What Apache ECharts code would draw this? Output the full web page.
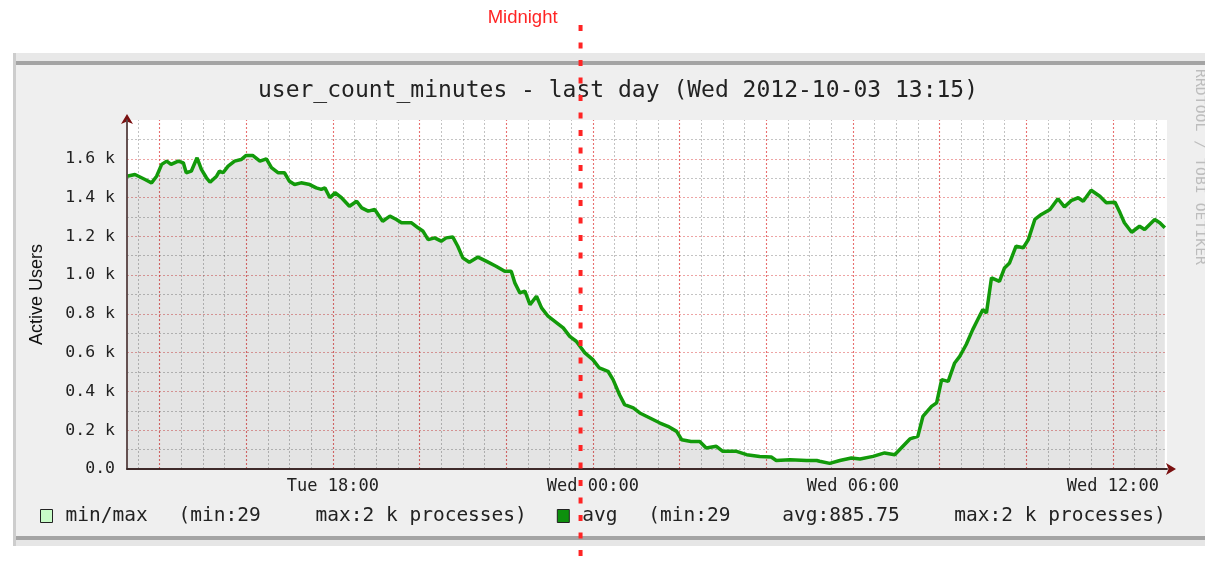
<!DOCTYPE html>
<html>
<head>
<meta charset="utf-8">
<title>user_count_minutes - last day</title>
<script src="https://cdn.jsdelivr.net/npm/echarts@6/dist/echarts.min.js"></script>
<style>
    html, body { margin: 0; padding: 0; background: #fff; }
    #main { width: 1205px; height: 566px; }
</style>
</head>
<body>
<div id="main"></div>
<script>
// minutes after Tue 13:15 (start of the "last day" window)
var offsetMin = [0, 11, 25, 34, 41, 48, 55, 61, 71, 78,
    82, 89, 97, 103, 110, 115, 124, 128, 133, 140,
    149, 158, 165, 174, 184, 193, 200, 209, 218, 225,
    232, 241, 253, 262, 269, 274, 281, 288, 297, 308,
    318, 325, 334, 343, 354, 364, 373, 380, 394, 403,
    410, 417, 426, 435, 442, 451, 458, 465, 474, 486,
    498, 511, 523, 532, 537, 544, 551, 558, 567, 574,
    583, 595, 604, 613, 622, 634, 645, 654, 666, 673,
    682, 689, 701, 710, 724, 738, 749, 761, 768, 781,
    793, 802, 816, 825, 844, 858, 876, 892, 899, 918,
    941, 955, 959, 973, 987, 1003, 1015, 1033, 1049, 1063,
    1072, 1084, 1095, 1102, 1114, 1121, 1128, 1137, 1146, 1153,
    1162, 1171, 1178, 1185, 1190, 1197, 1208, 1215, 1222, 1231,
    1241, 1248, 1257, 1266, 1278, 1289, 1298, 1308, 1317, 1324,
    1335, 1347, 1356, 1368, 1375, 1381, 1391, 1402, 1409, 1423,
    1430, 1437];

// active users (avg)
var activeUsers = [1510, 1519, 1493, 1476, 1510, 1571, 1588, 1571, 1588, 1579,
    1528, 1536, 1605, 1545, 1502, 1479, 1510, 1536, 1528, 1562,
    1588, 1596, 1617, 1617, 1588, 1600, 1554, 1528, 1528, 1484,
    1467, 1476, 1467, 1450, 1442, 1450, 1399, 1425, 1399, 1355,
    1381, 1347, 1330, 1338, 1278, 1304, 1287, 1270, 1270, 1244,
    1226, 1183, 1192, 1175, 1192, 1197, 1149, 1089, 1066, 1093,
    1071, 1046, 1020, 1020, 960, 908, 917, 848, 891, 831,
    788, 754, 728, 684, 659, 599, 564, 521, 504, 461,
    383, 332, 315, 289, 263, 237, 220, 194, 151, 142,
    142, 108, 117, 91, 91, 74, 65, 62, 44, 48,
    44, 44, 40, 29, 44, 57, 52, 65, 83, 74,
    108, 155, 168, 271, 323, 341, 461, 452, 547, 581,
    642, 719, 771, 822, 805, 986, 968, 1037, 1063, 1149,
    1141, 1183, 1287, 1313, 1338, 1394, 1352, 1386, 1399, 1381,
    1438, 1407, 1373, 1376, 1321, 1270, 1221, 1252, 1235, 1287,
    1270, 1244];

var startClock = 13 * 60 + 15;     // Tue 13:15
var spanMin = 1440;
var dayNames = ['Tue', 'Wed'];
var legendMinMax = ['min/max', '(min:29', 'max:2 k processes)'];
var legendAvg = ['avg', '(min:29', 'avg:885.75', 'max:2 k processes)'];
var midnightAt = 628;              // where the hand drawn "Midnight" marker sits

var pairs = offsetMin.map(function (m, i) { return [m, activeUsers[i]]; });

var mono = 'DejaVu Sans Mono';
var RED = '#eea4a4', GRAY = '#c4c4c4';

// vertical grid: gray every half hour, red every even hour (no overlap between the two)
var firstHalfHour = (30 - startClock % 30) % 30;
var vLines = [];
for (var m = firstHalfHour; m < spanMin; m += 30) {
    var major = (startClock + m) % 120 === 0;
    vLines.push({
        xAxis: m,
        lineStyle: major
            ? { color: 'rgba(222,50,50,0.7)', type: [2, 2], width: 1.1 }
            : { color: 'rgba(120,120,120,0.45)', type: [2, 2], width: 1 }
    });
}

function xLabel(m) {
    var c = startClock + m;
    if (c % 360 !== 0) return '';
    var h = Math.floor((c % 1440) / 60);
    return dayNames[Math.floor(c / 1440)] + ' ' + (h < 10 ? '0' + h : h) + ':00';
}
function yLabel(v) {
    if (v >= 1800) return '';
    if (v === 0) return '0.0';
    return (v / 1000).toFixed(1) + ' k';
}

// legend text is tab aligned in rrdtool, fake it with fixed width rich boxes
var tokStyle = function (w) {
    var s = { fontFamily: mono, fontSize: 19.5, color: '#222' };
    if (w) s.width = w;
    return s;
};
function legendText(name) {
    if (name === 'min/max') {
        return '{s| }{a1|' + legendMinMax[0] + '}{b1|' + legendMinMax[1] + '}{c1|' + legendMinMax[2] + '}';
    }
    return '{s| }{a2|' + legendAvg[0] + '}{b2|' + legendAvg[1] + '}{c2|' + legendAvg[2] + '}{d2|' + legendAvg[3] + '}';
}

function yLineAxis(step, color, z) {
    return {
        type: 'value', position: 'left', min: 0, max: 1800, interval: step, z: z,
        axisLine: { show: false }, axisTick: { show: false }, axisLabel: { show: false },
        splitLine: { show: true, showMinLine: false, showMaxLine: false, lineStyle: { color: color, type: [2, 2], width: 1 } }
    };
}

var chart = echarts.init(document.getElementById('main'));

var option = {
    animation: false,
    title: {
        text: 'user_count_minutes - last day (Wed 2012-10-03 13:15)',
        left: 613,
        top: 75,
        textAlign: 'center',
        textStyle: { fontFamily: mono, fontSize: 23, fontWeight: 'normal', color: '#222' }
    },
    legend: {
        left: 40,
        top: 506,
        padding: 0,
        icon: 'rect',
        itemWidth: 12,
        itemHeight: 13,
        itemGap: 30,
        selectedMode: false,
        data: [
            { name: 'min/max', itemStyle: { color: '#c8fcc8', borderColor: '#222', borderWidth: 1 } },
            { name: 'avg', itemStyle: { color: '#0d900d', borderColor: '#222', borderWidth: 1 } }
        ],
        formatter: legendText,
        textStyle: {
            fontFamily: mono, fontSize: 19.5, color: '#222',
            rich: {
                s: tokStyle(8),
                a1: tokStyle(113), b1: tokStyle(137), c1: tokStyle(),
                a2: tokStyle(66), b2: tokStyle(134), c2: tokStyle(172), d2: tokStyle()
            }
        }
    },
    grid: { left: 127, right: 38, top: 120, bottom: 97, show: true, backgroundColor: '#fff', borderWidth: 0 },
    xAxis: [
        {
            type: 'value', position: 'bottom', min: 0, max: spanMin, interval: 15, z: 12,
            axisLine: { show: true, onZero: false, lineStyle: { color: '#222', width: 1.5 } },
            axisTick: { show: false },
            axisLabel: { formatter: xLabel, fontFamily: mono, fontSize: 17, color: '#222', margin: 9 },
            splitLine: { show: false }
        },
        {
            // only there for the dark red arrow head
            type: 'value', position: 'bottom', min: 0, max: spanMin, z: 11,
            axisLine: {
                show: true, onZero: false, symbol: ['none', 'arrow'], symbolSize: [9, 10], symbolOffset: [0, 9],
                lineStyle: { color: '#7a1010', width: 1.5 }
            },
            axisTick: { show: false }, axisLabel: { show: false }, splitLine: { show: false }
        }
    ],
    yAxis: [
        {
            type: 'value', position: 'left', min: 0, max: 1800, interval: 200, z: 12,
            name: 'Active Users',
            nameLocation: 'middle',
            nameGap: 81,
            nameTextStyle: { fontFamily: 'Liberation Sans', fontSize: 18, color: '#111' },
            axisLine: { show: true, lineStyle: { color: '#555', width: 1.5 } },
            axisTick: { show: false },
            axisLabel: { formatter: yLabel, fontFamily: mono, fontSize: 16.5, color: '#222', margin: 12 },
            splitLine: { show: false }
        },
        {
            type: 'value', position: 'left', min: 0, max: 1800, z: 11,
            axisLine: {
                show: true, onZero: false, symbol: ['none', 'arrow'], symbolSize: [9, 10], symbolOffset: [0, 6],
                lineStyle: { color: '#7a1010', width: 1.5 }
            },
            axisTick: { show: false }, axisLabel: { show: false }, splitLine: { show: false }
        },
        yLineAxis(100, GRAY, 3),   // gray line every 0.1 k
        yLineAxis(200, RED, 5)     // red line every 0.2 k
    ],
    series: [
        {
            name: 'min/max',
            type: 'line',
            data: pairs,
            showSymbol: false,
            itemStyle: { color: '#c8fcc8' },
            lineStyle: { width: 0 },
            areaStyle: { color: 'rgba(0,0,0,0.15)' },
            z: 8,
            markLine: {
                silent: true,
                symbol: ['none', 'none'],
                label: { show: false },
                data: vLines
            }
        },
        {
            name: 'avg',
            type: 'line',
            data: pairs,
            showSymbol: false,
            itemStyle: { color: '#129a0a' },
            lineStyle: { color: '#129a0a', width: 3.5 },
            z: 9
        }
    ]
};
chart.setOption(option);

// panel frame, watermark and the midnight marker
var mx = chart.convertToPixel({ xAxisIndex: 0 }, midnightAt);
chart.setOption({
    graphic: {
        elements: [
            { type: 'rect', z: -10, shape: { x: 13, y: 53, width: 1200, height: 8 }, style: { fill: '#e8e8e8' } },
            { type: 'rect', z: -10, shape: { x: 13, y: 61, width: 1200, height: 4 }, style: { fill: '#a4a4a4' } },
            { type: 'rect', z: -10, shape: { x: 13, y: 65, width: 1200, height: 471 }, style: { fill: '#efefef' } },
            { type: 'rect', z: -10, shape: { x: 13, y: 536, width: 1200, height: 4 }, style: { fill: '#a4a4a4' } },
            { type: 'rect', z: -10, shape: { x: 13, y: 540, width: 1200, height: 6 }, style: { fill: '#e6e6e6' } },
            { type: 'rect', z: -9, shape: { x: 13, y: 53, width: 3, height: 493 }, style: { fill: '#cdcdcd' } },
            {
                type: 'text', x: 1192, y: 69, rotation: -Math.PI / 2,
                style: { text: 'RRDTOOL / TOBI OETIKER', font: '14.8px "DejaVu Sans Mono"', fill: '#bdbdbd', align: 'left', verticalAlign: 'bottom' }
            },
            {
                type: 'line', z: 100,
                shape: { x1: mx, y1: 25, x2: mx, y2: 566 },
                style: { stroke: '#ff2424', lineWidth: 4, lineDash: [6, 11.5] }
            },
            {
                type: 'text', z: 100, x: mx - 23, y: 18,
                style: { text: 'Midnight', font: '18.5px "Liberation Sans"', fill: '#ff2424', align: 'right', verticalAlign: 'middle' }
            }
        ]
    }
});
</script>
</body>
</html>
